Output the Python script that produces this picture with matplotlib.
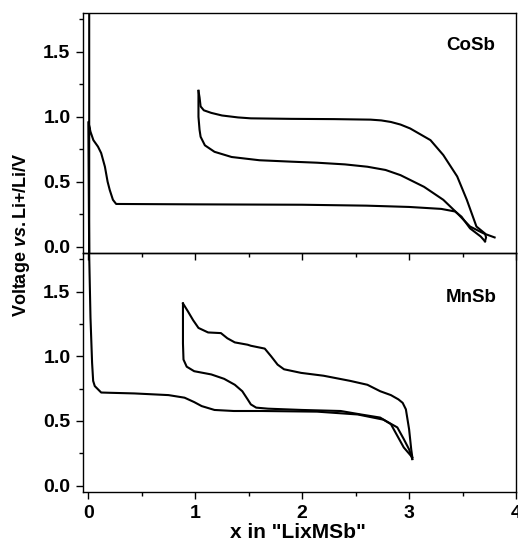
import matplotlib
matplotlib.use("Agg")
import matplotlib.pyplot as plt
from matplotlib.ticker import MultipleLocator

plt.rcParams['font.family'] = ['Liberation Sans', 'DejaVu Sans']
plt.rcParams['font.weight'] = 'bold'
plt.rcParams['mathtext.fontset'] = 'custom'
plt.rcParams['mathtext.it'] = 'Liberation Sans:bold:italic'
plt.rcParams['mathtext.rm'] = 'Liberation Sans:bold'

# ---------------- CoSb (top panel) ----------------
cosb_dis1_x = [0.008, 0.008, 0.0, 0.02, 0.047, 0.09, 0.12, 0.155, 0.18, 0.2, 0.23, 0.26,
               0.5, 1.0, 2.0, 2.6, 3.0, 3.3, 3.43, 3.49, 3.57, 3.67, 3.71]
cosb_dis1_v = [1.9, -0.1, 0.96, 0.885, 0.82, 0.77, 0.72, 0.615, 0.5, 0.436, 0.36, 0.328,
               0.327, 0.325, 0.322, 0.315, 0.305, 0.29, 0.27, 0.23, 0.14, 0.077, 0.04]

cosb_chg_x = [3.71, 3.72, 3.71, 3.63, 3.54, 3.45, 3.32, 3.2, 3.01, 2.92, 2.83, 2.74, 2.64, 2.3,
              1.9, 1.52, 1.4, 1.25, 1.15, 1.08, 1.05, 1.04, 1.03]
cosb_chg_v = [0.04, 0.07, 0.1, 0.154, 0.36, 0.54, 0.705, 0.82, 0.91, 0.94, 0.96, 0.972, 0.978,
              0.982, 0.984, 0.988, 0.995, 1.01, 1.03, 1.05, 1.08, 1.15, 1.2]

cosb_dis2_x = [1.03, 1.03, 1.04, 1.05, 1.09, 1.18, 1.34, 1.6, 1.9, 2.14, 2.4, 2.61, 2.78, 2.92,
               3.14, 3.32, 3.45, 3.57, 3.70, 3.80]
cosb_dis2_v = [1.2, 1.0, 0.9, 0.846, 0.78, 0.73, 0.69, 0.665, 0.654, 0.646, 0.633, 0.615, 0.59,
               0.55, 0.46, 0.36, 0.257, 0.154, 0.10, 0.07]

# ---------------- MnSb (bottom panel) ----------------
mnsb_dis1_x = [0.005, 0.02, 0.035, 0.045, 0.06, 0.12, 0.2, 0.43, 0.75, 0.9, 0.99, 1.06, 1.18,
               1.36, 1.62, 2.14, 2.52, 2.76, 2.89, 2.95, 3.0, 3.03]
mnsb_dis1_v = [1.9, 1.3, 0.95, 0.81, 0.77, 0.72, 0.718, 0.713, 0.70, 0.68, 0.646, 0.615, 0.585,
               0.577, 0.577, 0.572, 0.55, 0.51, 0.45, 0.36, 0.28, 0.205]

mnsb_chg_x = [3.03, 3.03, 3.02, 3.0, 2.97, 2.94, 2.90, 2.83, 2.73, 2.61, 2.45, 2.2, 1.99,
              1.83, 1.77, 1.71, 1.65, 1.52, 1.49, 1.37, 1.30, 1.24, 1.12, 1.03, 0.98, 0.93, 0.885]
mnsb_chg_v = [0.205, 0.22, 0.28, 0.436, 0.59, 0.64, 0.667, 0.70, 0.73, 0.78, 0.81, 0.85, 0.872,
              0.90, 0.936, 1.0, 1.06, 1.082, 1.09, 1.108, 1.14, 1.18, 1.185, 1.22, 1.28, 1.35, 1.41]

mnsb_dis2_x = [0.885, 0.885, 0.89, 0.92, 0.99, 1.15, 1.27, 1.37, 1.44, 1.49, 1.52, 1.57, 1.68,
               2.0, 2.36, 2.55, 2.73, 2.83, 2.89, 2.95, 3.03]
mnsb_dis2_v = [1.41, 1.1, 0.975, 0.92, 0.885, 0.86, 0.826, 0.78, 0.73, 0.667, 0.628, 0.603, 0.595,
               0.585, 0.577, 0.55, 0.526, 0.475, 0.385, 0.295, 0.218]

y_ticks = [0.0, 0.5, 1.0, 1.5]
y_tick_labels = ['0.0', '0.5', '1.0', '1.5']
x_ticks = [0, 1, 2, 3, 4]
x_tick_labels = ['0', '1', '2', '3', '4']

W, H = 518, 545
fig = plt.figure(figsize=(W / 100, H / 100), dpi=100)

left = 83 / W
width = (516 - 83) / W
ax_top = fig.add_axes([left, 1 - 253 / H, width, (253 - 13) / H])
ax_bot = fig.add_axes([left, 1 - 492 / H, width, (492 - 253) / H])

lw = 1.5
ax_top.plot(cosb_dis1_x, cosb_dis1_v, color='black', lw=lw)
ax_top.plot(cosb_chg_x, cosb_chg_v, color='black', lw=lw)
ax_top.plot(cosb_dis2_x, cosb_dis2_v, color='black', lw=lw)

ax_bot.plot(mnsb_dis1_x, mnsb_dis1_v, color='black', lw=lw)
ax_bot.plot(mnsb_chg_x, mnsb_chg_v, color='black', lw=lw)
ax_bot.plot(mnsb_dis2_x, mnsb_dis2_v, color='black', lw=lw)

for ax in (ax_top, ax_bot):
    ax.set_facecolor('none')
    ax.set_xlim(-0.05, 4.0)
    ax.set_ylim(-0.05, 1.8)
    ax.set_yticks(y_ticks)
    ax.set_yticklabels(y_tick_labels)
    ax.set_xticks(x_ticks)
    ax.xaxis.set_minor_locator(MultipleLocator(0.5))
    ax.yaxis.set_minor_locator(MultipleLocator(0.25))
    ax.tick_params(which='major', direction='out', length=5, width=1, labelsize=14,
                   top=False, right=False, pad=4)
    ax.tick_params(which='minor', direction='out', length=3, width=1, top=False, right=False)
    for s in ax.spines.values():
        s.set_linewidth(1.0)
    for lab in ax.get_yticklabels():
        lab.set_fontweight('bold')

ax_top.tick_params(labelbottom=False)
ax_bot.set_xticklabels(x_tick_labels, fontweight='bold')

ax_top.text(495, H - 46, 'CoSb', transform=None, ha='right', va='center',
            fontsize=13.5, fontweight='bold')
ax_bot.text(497, H - 297, 'MnSb', transform=None, ha='right', va='center',
            fontsize=13.5, fontweight='bold')

fig.text(22 / W, 1 - 235 / H, r'Voltage $\mathit{vs.}$Li+/Li/V', rotation=90,
         ha='center', va='center', fontsize=13, fontweight='bold')
fig.text(298 / W, 1 - 532 / H, 'x in "LixMSb"', ha='center', va='center',
         fontsize=15, fontweight='bold')

fig.savefig('out.png', dpi=100)
